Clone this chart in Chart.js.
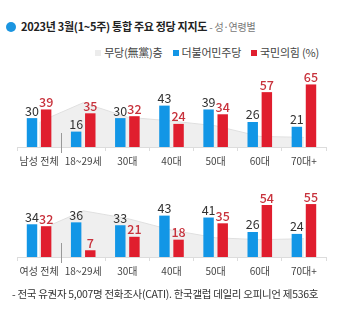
<!DOCTYPE html>
<html>
<head>
<meta charset="utf-8">
<script src="https://cdn.jsdelivr.net/npm/chart.js@4.4.0/dist/chart.umd.min.js"></script>
<style>
  body { margin: 0; background: #fff; font-family: "Noto Sans CJK KR", sans-serif; color: #333; }
  #wrap { position: relative; width: 340px; height: 314px; overflow: hidden; }
  #title { position: absolute; left: 6px; top: 18px; font-size: 11px; font-weight: bold; color: #222; white-space: nowrap; letter-spacing: -0.3px; }
  #title .dot { display: inline-block; width: 10px; height: 10px; border-radius: 50%; background: #1b95e0; margin-right: 5px; vertical-align: -1px; }
  #title .sub { font-weight: normal; color: #777; font-size: 10px; }
  #legend { position: absolute; right: 21px; top: 44px; font-size: 11px; color: #444; white-space: nowrap; letter-spacing: -0.2px; }
  #legend span.sq { display: inline-block; width: 6px; height: 6px; margin: 0 3px 0 10px; vertical-align: 1px; }
  .box { position: absolute; left: 0; width: 340px; }
  #note { position: absolute; left: 12px; top: 286px; font-size: 10.5px; color: #333; white-space: nowrap; letter-spacing: -0.3px; }
</style>
</head>
<body>
<div id="wrap">
  <div id="title"><span class="dot"></span>2023년 3월(1~5주) 통합 주요 정당 지지도 <span class="sub">- 성·연령별</span></div>
  <div id="legend"><span class="sq" style="background:#ececec"></span>무당(無黨)층<span class="sq" style="background:#1296e6"></span>더불어민주당<span class="sq" style="background:#e01e2e"></span>국민의힘 (%)</div>
  <div class="box" style="top:58px;height:112px"><canvas id="maleChart"></canvas></div>
  <div class="box" style="top:168px;height:112px"><canvas id="femaleChart"></canvas></div>
  <div id="note">- 전국 유권자 5,007명 전화조사(CATI). 한국갤럽 데일리 오피니언 제536호</div>
</div>
<script>
const maleLabels = ["남성 전체", "18~29세", "30대", "40대", "50대", "60대", "70대+"];
const femaleLabels = ["여성 전체", "18~29세", "30대", "40대", "50대", "60대", "70대+"];

const maleDem = [30, 16, 30, 43, 39, 26, 21];
const malePpp = [39, 35, 32, 24, 34, 57, 65];
const maleNone = [26, 46, 31, 27, 22, 11, 10];

const femaleDem = [34, 36, 33, 43, 41, 26, 24];
const femalePpp = [32, 7, 21, 18, 35, 54, 55];
const femaleNone = [28, 48, 40, 28, 20, 18, 19];

const BLUE = "#1296e6";
const RED = "#e01e2e";
const FONT = "'Noto Sans CJK KR', sans-serif";

// clip the grey area so it starts after the first (total) group
const areaClip = {
  id: "areaClip",
  beforeDatasetDraw(chart, args) {
    if (args.index !== 0) return;
    let red = chart.getDatasetMeta(2).data[0];
    let a = chart.chartArea;
    let left = red.x + red.width / 2;
    chart.ctx.save();
    chart.ctx.beginPath();
    chart.ctx.rect(left, a.top - 5, a.right - left, a.bottom - a.top + 5);
    chart.ctx.clip();
  },
  afterDatasetDraw(chart, args) {
    if (args.index !== 0) return;
    chart.ctx.restore();
  },
}; //areaClip

// numbers on top of the bars + the separator after the total group
const valueLabels = {
  id: "valueLabels",
  afterDatasetsDraw(chart) {
    let ctx = chart.ctx;
    ctx.save();
    ctx.textAlign = "center";
    ctx.textBaseline = "bottom";
    [1, 2].forEach((i) => {
      let meta = chart.getDatasetMeta(i);
      let data = chart.data.datasets[i].data;
      ctx.fillStyle = i == 1 ? "#333" : "#c8323c";
      ctx.font = (i == 1 ? "normal" : "500") + " 12.5px " + FONT;
      meta.data.forEach((bar, j) => {
        ctx.fillText(data[j], bar.x, bar.y - 1);
      });
    });
    let x = chart.scales.x;
    let sep = (x.getPixelForValue(0) + x.getPixelForValue(1)) / 2;
    let bottom = chart.chartArea.bottom;
    ctx.strokeStyle = "#999";
    ctx.lineWidth = 1;
    ctx.beginPath();
    ctx.moveTo(Math.round(sep) + 0.5, bottom - 14);
    ctx.lineTo(Math.round(sep) + 0.5, bottom + 6);
    ctx.stroke();
    ctx.restore();
  },
}; //valueLabels

function makeChart(id, labels, none, dem, ppp) {
  return new Chart(document.getElementById(id), {
    type: "bar",
    data: {
      labels: labels,
      datasets: [
        {
          type: "line",
          data: none,
          fill: "origin",
          backgroundColor: "#efefef",
          borderColor: "#e0e0e0",
          borderWidth: 1,
          pointRadius: 0,
          tension: 0,
          order: 3,
        },
        {
          data: dem,
          backgroundColor: BLUE,
          categoryPercentage: 0.64,
          barPercentage: 0.74,
          order: 1,
        },
        {
          data: ppp,
          backgroundColor: RED,
          categoryPercentage: 0.64,
          barPercentage: 0.74,
          order: 2,
        },
      ],
    },
    options: {
      responsive: true,
      maintainAspectRatio: false,
      animation: false,
      layout: { padding: { top: 12, left: 17, right: 14, bottom: 0 } },
      plugins: { legend: { display: false }, tooltip: { enabled: false } },
      scales: {
        y: { display: false, min: 0, max: 80 },
        x: {
          border: { color: "#dcdcdc" },
          grid: { drawOnChartArea: false, tickLength: 4, color: "#dcdcdc", offset: true },
          ticks: { color: "#444", font: { family: FONT, size: 10 }, padding: 4, maxRotation: 0, autoSkip: false },
          afterFit: function (scale) {
            scale.height = 23;
          },
        },
      },
    },
    plugins: [areaClip, valueLabels],
  });
} //makeChart

window.onload = function () {
  makeChart("maleChart", maleLabels, maleNone, maleDem, malePpp);
  makeChart("femaleChart", femaleLabels, femaleNone, femaleDem, femalePpp);
}; //onload
</script>
</body>
</html>
